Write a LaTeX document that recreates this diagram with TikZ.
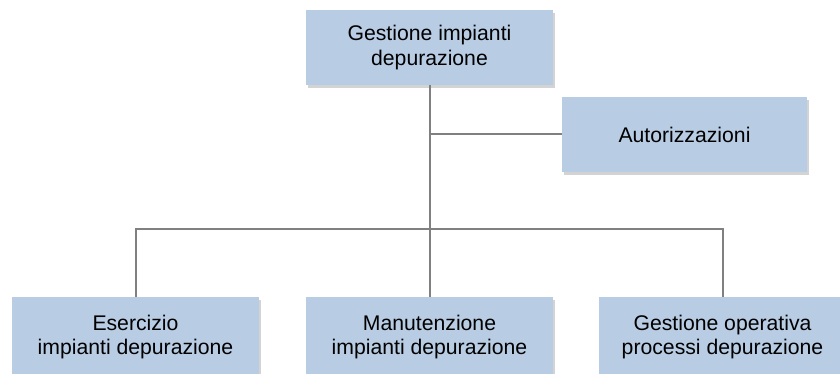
\documentclass[tikz,border=0pt]{standalone}
\usepackage{fontspec}
\setmainfont{Liberation Sans}
\usetikzlibrary{shadows}
\definecolor{boxblue}{HTML}{B8CCE4}
\definecolor{linegray}{HTML}{808080}
\begin{document}
\begin{tikzpicture}[x=1pt, y=-1pt,
  every node/.style={font=\fontsize{21.2}{24.5}\selectfont},
  orgbox/.style={fill=boxblue, minimum width=247pt, minimum height=75pt, align=center,
    inner sep=0pt, drop shadow={opacity=0.35, shadow xshift=2pt, shadow yshift=-3pt}},
  link/.style={draw=linegray, line width=2pt}]
\useasboundingbox (0,0) rectangle (840,374);
\node[orgbox] (top) at (429.5,47.5) {Gestione impianti\\depurazione};
\node[orgbox, minimum width=245pt] (auth) at (684.5,134.5) {Autorizzazioni};
\node[orgbox, minimum height=80pt] (eser) at (135.5,337) {Esercizio\\impianti depurazione};
\node[orgbox, minimum height=80pt] (manu) at (429.5,337) {Manutenzione\\impianti depurazione};
\node[orgbox, minimum height=80pt] (gop) at (722.5,337) {Gestione operativa\\processi depurazione};
\coordinate (bus) at (429.5,229);
\draw[link] (top.south) -- (manu.north);
\draw[link] (top.south |- auth.west) -- (auth.west);
\draw[link] (eser.north) |- (bus) -| (gop.north);
\end{tikzpicture}
\end{document}
